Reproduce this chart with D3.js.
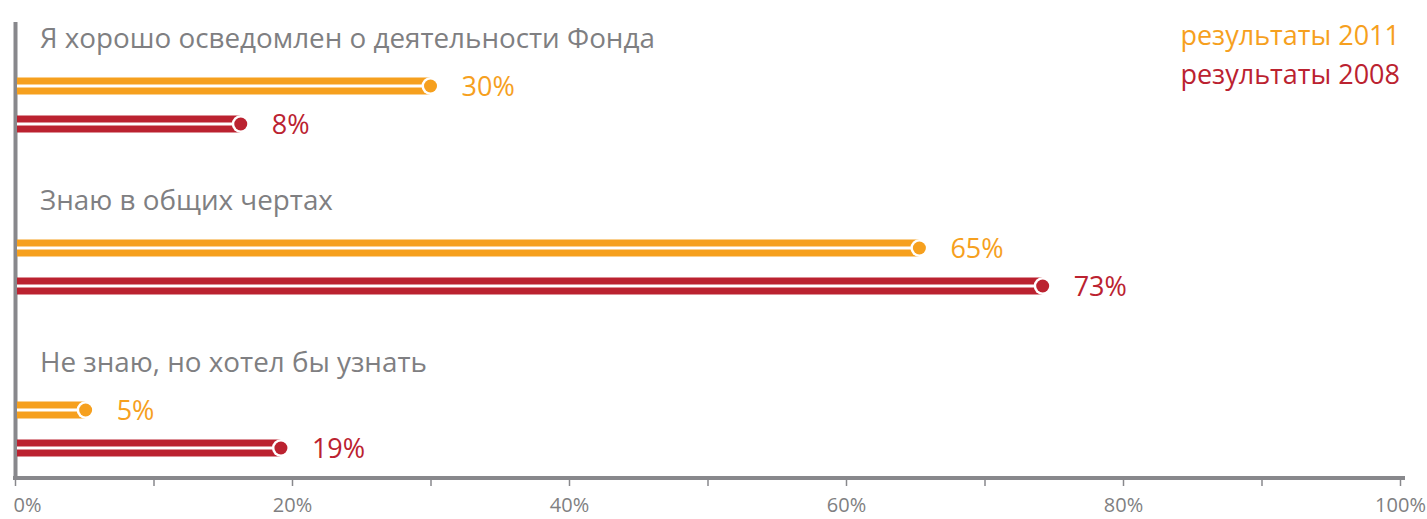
<!DOCTYPE html>
<html>
<head>
<meta charset="utf-8">
<script src="https://cdn.jsdelivr.net/npm/d3@7"></script>
<style>
  html, body { margin: 0; padding: 0; background: #ffffff; }
  svg { display: block; }
  text { font-family: "Open Sans", "Noto Sans", "DejaVu Sans", sans-serif; }
</style>
</head>
<body>
<svg id="chart" width="1427" height="519"></svg>
<script>
// ---- data ----
const categories = [
  "Я хорошо осведомлен о деятельности Фонда",
  "Знаю в общих чертах",
  "Не знаю, но хотел бы узнать"
];
const seriesNames = ["результаты 2011", "результаты 2008"];
// bar end positions as drawn in the picture (percent of axis)
const values2011 = [30, 65.3, 5.1];
const values2008 = [16.3, 74.2, 19.2];
// printed value labels
const labels2011 = ["30%", "65%", "5%"];
const labels2008 = ["8%", "73%", "19%"];
const tickValues = [0, 10, 20, 30, 40, 50, 60, 70, 80, 90, 100];
const tickLabels = ["0%", "", "20%", "", "40%", "", "60%", "", "80%", "", "100%"];

// ---- styles ----
const colors = ["#F6A01E", "#BB2230"];
const grayText = "#7f7f82";
const grayAxis = "#88888c";

const svg = d3.select("#chart");

const x = d3.scaleLinear().domain([0, 100]).range([15, 1400]);
const yGroup = d3.scaleBand().domain(d3.range(categories.length)).range([0, 486]);
const yOffsets = { label: 48, s0: 86, s1: 124 };

// vertical axis line
svg.append("line")
  .attr("x1", 15.5).attr("x2", 15.5).attr("y1", 22).attr("y2", 480)
  .attr("stroke", grayAxis).attr("stroke-width", 4);

// bottom axis
const axisG = svg.append("g").attr("transform", "translate(0,478)");
const axis = d3.axisBottom(x).tickValues(tickValues).tickSize(8).tickPadding(14)
  .tickFormat((d, i) => tickLabels[i]);
axisG.call(axis);
axisG.select(".domain").attr("stroke", grayAxis).attr("stroke-width", 4).attr("d", "M13,0H1405");
axisG.selectAll(".tick line").attr("stroke", grayAxis).attr("stroke-width", 1.5);
axisG.selectAll(".tick text")
  .attr("fill", grayText)
  .style("font-size", "20px")
  .attr("y", 34)
  .attr("dy", "0")
  .attr("text-anchor", (d, i) => i === 0 ? "start" : "middle")
  .attr("x", (d, i) => i === 0 ? -2 : 0);

// group labels
const groupLabels = svg.append("g").selectAll("text").data(categories).join("text")
  .attr("x", 40)
  .attr("y", (d, i) => yGroup(i) + yOffsets.label)
  .attr("fill", grayText)
  .style("font-size", "28px")
  .text(d => d);
{
  const w = groupLabels.nodes()[0].getComputedTextLength();
  groupLabels.style("font-size", (28 * 615 / w) + "px");
}

// bars
const series = [values2011, values2008];
const seriesLabels = [labels2011, labels2008];
const barH = 17, gapH = 3, dotR = 6.5, ringW = 2.5;

series.forEach((vals, s) => {
  const g = svg.append("g");
  const yc = i => yGroup(i) + (s === 0 ? yOffsets.s0 : yOffsets.s1);
  g.selectAll("rect.bar").data(vals).join("rect")
    .attr("class", "bar")
    .attr("x", x(0) + 2)
    .attr("y", (d, i) => yc(i) - barH / 2)
    .attr("width", d => x(d) - x(0) - 2)
    .attr("height", barH)
    .attr("fill", colors[s]);
  g.selectAll("rect.gap").data(vals).join("rect")
    .attr("class", "gap")
    .attr("x", x(0) + 2)
    .attr("y", (d, i) => yc(i) - gapH / 2)
    .attr("width", d => x(d) - x(0) - 2)
    .attr("height", gapH)
    .attr("fill", "#ffffff");
  g.selectAll("circle.ring").data(vals).join("circle")
    .attr("class", "ring")
    .attr("cx", d => x(d)).attr("cy", (d, i) => yc(i))
    .attr("r", dotR + ringW).attr("fill", "#ffffff");
  g.selectAll("circle.dot").data(vals).join("circle")
    .attr("class", "dot")
    .attr("cx", d => x(d)).attr("cy", (d, i) => yc(i))
    .attr("r", dotR).attr("fill", colors[s]);
  g.selectAll("text").data(vals).join("text")
    .attr("x", d => x(d) + 31)
    .attr("y", (d, i) => yc(i) + 10)
    .attr("fill", colors[s])
    .style("font-size", "27px")
    .text((d, i) => seriesLabels[s][i]);
});

// legend
svg.append("g").selectAll("text").data(seriesNames).join("text")
  .attr("x", 1400)
  .attr("y", (d, i) => 45 + i * 39)
  .attr("text-anchor", "end")
  .attr("fill", (d, i) => colors[i])
  .style("font-size", "27px")
  .text(d => d);
</script>
</body>
</html>
